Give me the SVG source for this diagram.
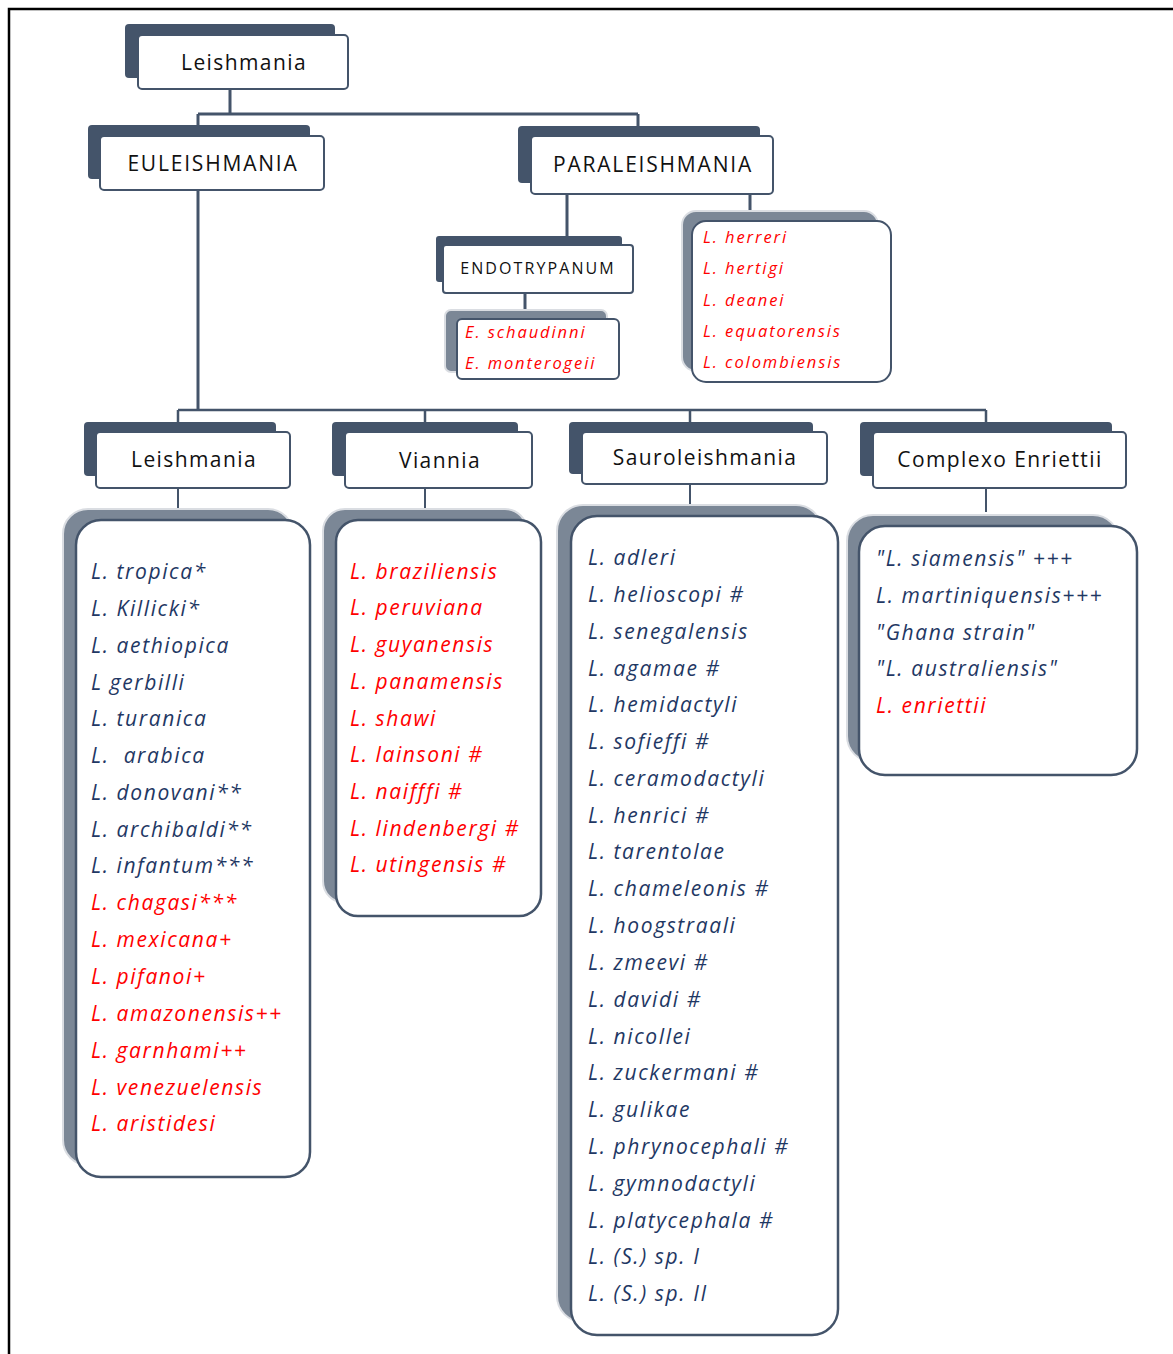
<svg xmlns="http://www.w3.org/2000/svg" width="1173" height="1354" viewBox="0 0 1173 1354">
<style>
.hs{fill:#44546A}
.hb{fill:#fff;stroke:#44546A;stroke-width:2}
.ls{fill:#7B8796;stroke:#DADDE2;stroke-width:2}
.lb{fill:#fff;stroke:#44546A;stroke-width:2.5}
.ht{font-family:"Open Sans","Noto Sans",sans-serif;font-size:21px;fill:#111;text-anchor:middle;letter-spacing:1.4px}
.cap{letter-spacing:1.8px}
.it{font-family:"Open Sans","Noto Sans",sans-serif;font-style:italic;font-size:21px;letter-spacing:1.6px}
.sm{font-size:16.5px;letter-spacing:1.9px}
.b{fill:#1F3864}
.r{fill:#FF0000}
.c{fill:none;stroke:#44546A}
</style>
<rect x="0" y="0" width="1173" height="1354" fill="#fff"/>
<path d="M9 1354 V9 H1173" fill="none" stroke="#000" stroke-width="2.5"/>

<g id="connectors">
<path class="c" stroke-width="3" d="M230 89 V114 M198 114 H638 M198 114 V126 M638 114 V126"/>
<path class="c" stroke-width="3" d="M198 190 V410"/>
<path class="c" stroke-width="3" d="M567 194 V245 M750 194 V212"/>
<path class="c" stroke-width="3" d="M525 293 V310"/>
<path class="c" stroke-width="2.5" d="M178 410 H986 M178 410 V422 M425 410 V422 M690 410 V422 M986 410 V422"/>
<path class="c" stroke-width="2" d="M178 488 V508 M425 488 V508 M690 484 V505 M986 488 V512"/>
</g>

<g id="n-leishmania-root">
<rect class="hs" x="125" y="24" width="210" height="54" rx="4"/>
<rect class="hb" x="138" y="35" width="210" height="54" rx="4"/>
<text class="ht" x="244" y="70">Leishmania</text>
</g>
<g id="n-euleishmania">
<rect class="hs" x="88" y="125" width="222" height="54" rx="4"/>
<rect class="hb" x="100" y="136" width="224" height="54" rx="4"/>
<text class="ht cap" x="213" y="171">EULEISHMANIA</text>
</g>
<g id="n-paraleishmania">
<rect class="hs" x="518" y="126" width="242" height="57" rx="4"/>
<rect class="hb" x="531" y="136" width="242" height="58" rx="4"/>
<text class="ht cap" x="653" y="172">PARALEISHMANIA</text>
</g>
<g id="n-endotrypanum">
<rect class="hs" x="436" y="236" width="186" height="46" rx="3"/>
<rect class="hb" x="443" y="245" width="190" height="48" rx="3"/>
<text class="ht" x="538" y="274" style="font-size:16px;letter-spacing:2.1px">ENDOTRYPANUM</text>
</g>
<g id="n-endo-species">
<rect class="ls" x="445" y="310" width="162" height="62" rx="6"/>
<rect class="lb" x="457" y="319" width="162" height="60" rx="5" style="stroke-width:2"/>
<text class="it sm r" x="465" y="338">E. schaudinni</text>
<text class="it sm r" x="465" y="369">E. monterogeii</text>
</g>
<g id="n-para-species">
<rect class="ls" x="682" y="211" width="196" height="160" rx="14"/>
<rect class="lb" x="692" y="221" width="199" height="161" rx="14" style="stroke-width:2"/>
<text class="it sm r" x="703" y="243">L. herreri</text>
<text class="it sm r" x="703" y="274">L. hertigi</text>
<text class="it sm r" x="703" y="306">L. deanei</text>
<text class="it sm r" x="703" y="337">L. equatorensis</text>
<text class="it sm r" x="703" y="368">L. colombiensis</text>
</g>

<g id="n-leishmania">
<rect class="hs" x="84" y="422" width="192" height="54" rx="4"/>
<rect class="hb" x="96" y="432" width="194" height="56" rx="4"/>
<text class="ht" x="194" y="467">Leishmania</text>
</g>
<g id="n-viannia">
<rect class="hs" x="332" y="422" width="186" height="54" rx="4"/>
<rect class="hb" x="345" y="432" width="187" height="56" rx="4"/>
<text class="ht" x="440" y="468">Viannia</text>
</g>
<g id="n-sauroleishmania">
<rect class="hs" x="569" y="422" width="244" height="52" rx="4"/>
<rect class="hb" x="582" y="432" width="245" height="52" rx="4"/>
<text class="ht" x="705" y="465">Sauroleishmania</text>
</g>
<g id="n-complexo">
<rect class="hs" x="860" y="422" width="252" height="54" rx="4"/>
<rect class="hb" x="873" y="432" width="253" height="56" rx="4"/>
<text class="ht" x="1000" y="467">Complexo Enriettii</text>
</g>

<g id="n-leishmania-species">
<rect class="ls" x="63" y="509" width="230" height="656" rx="25"/>
<rect class="lb" x="76" y="520" width="234" height="657" rx="25"/>
<g class="it">
<text class="b" x="91" y="579">L. tropica*</text>
<text class="b" x="91" y="616">L. Killicki*</text>
<text class="b" x="91" y="653">L. aethiopica</text>
<text class="b" x="91" y="690">L gerbilli</text>
<text class="b" x="91" y="726">L. turanica</text>
<text class="b" x="91" y="763" xml:space="preserve">L.  arabica</text>
<text class="b" x="91" y="800">L. donovani**</text>
<text class="b" x="91" y="837">L. archibaldi**</text>
<text class="b" x="91" y="873">L. infantum***</text>
<text class="r" x="91" y="910">L. chagasi***</text>
<text class="r" x="91" y="947">L. mexicana+</text>
<text class="r" x="91" y="984">L. pifanoi+</text>
<text class="r" x="91" y="1021">L. amazonensis++</text>
<text class="r" x="91" y="1058">L. garnhami++</text>
<text class="r" x="91" y="1095">L. venezuelensis</text>
<text class="r" x="91" y="1131">L. aristidesi</text>
</g>
</g>

<g id="n-viannia-species">
<rect class="ls" x="323" y="509" width="204" height="394" rx="22"/>
<rect class="lb" x="336" y="520" width="205" height="396" rx="22"/>
<g class="it r">
<text x="350" y="579">L. braziliensis</text>
<text x="350" y="615">L. peruviana</text>
<text x="350" y="652">L. guyanensis</text>
<text x="350" y="689">L. panamensis</text>
<text x="350" y="726">L. shawi</text>
<text x="350" y="762">L. lainsoni #</text>
<text x="350" y="799">L. naifffi #</text>
<text x="350" y="836">L. lindenbergi #</text>
<text x="350" y="872">L. utingensis #</text>
</g>
</g>

<g id="n-sauroleishmania-species">
<rect class="ls" x="557" y="505" width="265" height="817" rx="26"/>
<rect class="lb" x="571" y="516" width="267" height="819" rx="26"/>
<g class="it b">
<text x="588" y="565">L. adleri</text>
<text x="588" y="602">L. helioscopi #</text>
<text x="588" y="639">L. senegalensis</text>
<text x="588" y="676">L. agamae #</text>
<text x="588" y="712">L. hemidactyli</text>
<text x="588" y="749">L. sofieffi #</text>
<text x="588" y="786">L. ceramodactyli</text>
<text x="588" y="823">L. henrici #</text>
<text x="588" y="859">L. tarentolae</text>
<text x="588" y="896">L. chameleonis #</text>
<text x="588" y="933">L. hoogstraali</text>
<text x="588" y="970">L. zmeevi #</text>
<text x="588" y="1007">L. davidi #</text>
<text x="588" y="1044">L. nicollei</text>
<text x="588" y="1080">L. zuckermani #</text>
<text x="588" y="1117">L. gulikae</text>
<text x="588" y="1154">L. phrynocephali #</text>
<text x="588" y="1191">L. gymnodactyli</text>
<text x="588" y="1228">L. platycephala #</text>
<text x="588" y="1264">L. (S.) sp. I</text>
<text x="588" y="1301">L. (S.) sp. II</text>
</g>
</g>

<g id="n-complexo-species">
<rect class="ls" x="847" y="515" width="272" height="247" rx="26"/>
<rect class="lb" x="859" y="526" width="278" height="249" rx="26"/>
<g class="it">
<text class="b" x="876" y="566">"L. siamensis" +++</text>
<text class="b" x="876" y="603">L. martiniquensis+++</text>
<text class="b" x="876" y="640">"Ghana strain"</text>
<text class="b" x="876" y="676">"L. australiensis"</text>
<text class="r" x="876" y="713">L. enriettii</text>
</g>
</g>
</svg>
